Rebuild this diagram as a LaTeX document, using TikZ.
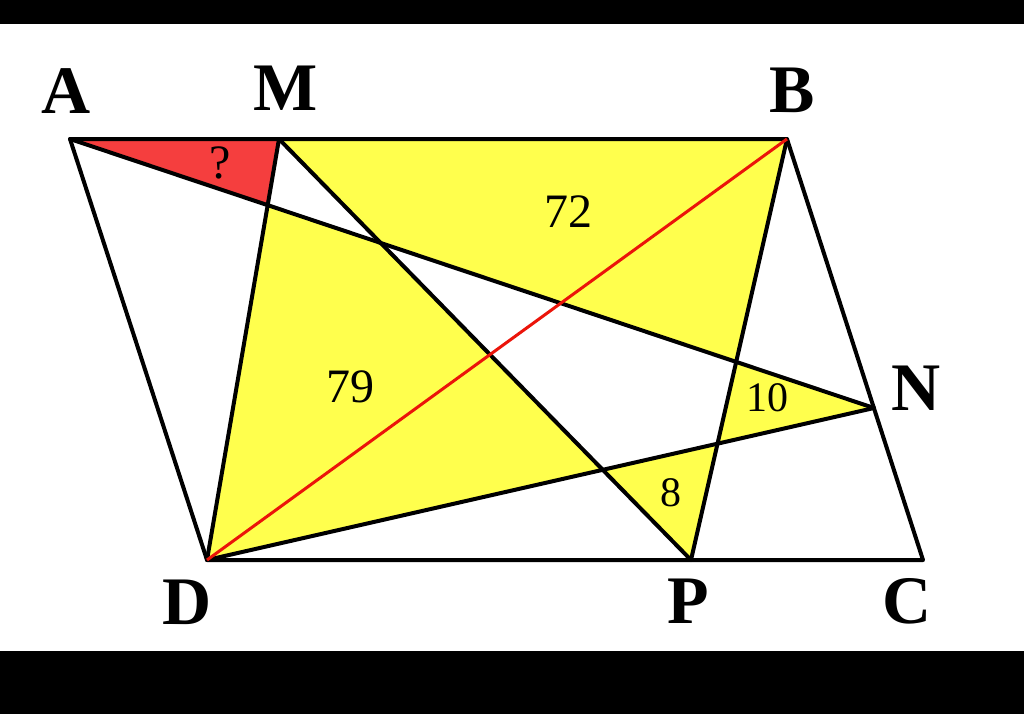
\documentclass[tikz,border=0pt]{standalone}
\usepackage{fontspec}
\setmainfont{Liberation Serif}
\definecolor{shadeyellow}{RGB}{255,255,77}
\definecolor{shadered}{RGB}{245,62,62}
\definecolor{diagred}{RGB}{235,20,10}
\begin{document}
\begin{tikzpicture}[x=0.5pt,y=-0.5pt,
	vertex/.style={font=\fontsize{34}{34}\selectfont\bfseries, inner sep=0pt},
	area/.style={font=\fontsize{24}{24}\selectfont, inner sep=0pt},
	smallarea/.style={font=\fontsize{21}{21}\selectfont, inner sep=0pt},
	edge/.style={line width=2pt, line join=round, line cap=round},
	diag/.style={line width=1.5pt, draw=diagred}]
	\useasboundingbox (0,0) rectangle (1024,714);
	\fill[white] (0,24) rectangle (1024,651);
	\fill[black] (0,0) rectangle (1024,24);
	\fill[black] (0,651) rectangle (1024,714);

	% corners and points on the sides
	\coordinate (A) at (70,139);
	\coordinate (M) at (279,139);
	\coordinate (B) at (787,139);
	\coordinate (N) at (874,408);
	\coordinate (C) at (923,560);
	\coordinate (P) at (691,560);
	\coordinate (D) at (207,560);

	% crossings
	\coordinate (ANxMD) at (intersection of A--N and M--D);
	\coordinate (ANxMP) at (intersection of A--N and M--P);
	\coordinate (ANxBP) at (intersection of A--N and B--P);
	\coordinate (DNxMP) at (intersection of D--N and M--P);
	\coordinate (DNxBP) at (intersection of D--N and B--P);

	% shaded parts
	\fill[shadered] (A) -- (M) -- (ANxMD) -- cycle;
	\fill[shadeyellow] (M) -- (B) -- (ANxBP) -- (ANxMP) -- cycle;
	\fill[shadeyellow] (ANxMD) -- (ANxMP) -- (DNxMP) -- (D) -- cycle;
	\fill[shadeyellow] (ANxBP) -- (N) -- (DNxBP) -- cycle;
	\fill[shadeyellow] (DNxMP) -- (DNxBP) -- (P) -- cycle;

	\draw[edge] (A) -- (B) -- (C) -- (D) -- cycle;
	\draw[edge] (A) -- (N);
	\draw[edge] (D) -- (N);
	\draw[edge] (M) -- (D);
	\draw[edge] (M) -- (P);
	\draw[edge] (B) -- (P);
	\draw[diag] (B) -- (D);

	\node[vertex] (labA) at (66,91) {A};
	\node[vertex] (labM) at (286,88) {M};
	\node[vertex] (labB) at (792,90) {B};
	\node[vertex] (labN) at (916,388) {N};
	\node[vertex] (labD) at (187,602) {D};
	\node[vertex] (labP) at (688,601) {P};
	\node[vertex] (labC) at (907,601) {C};

	\node[area] (area72) at (568,212) {72};
	\node[area] (area79) at (350,387) {79};
	\node[smallarea] (area10) at (767,398) {10};
	\node[smallarea] (area8) at (671,493) {8};
	\node[area] (areaQ) at (220,163) {?};
\end{tikzpicture}
\end{document}
